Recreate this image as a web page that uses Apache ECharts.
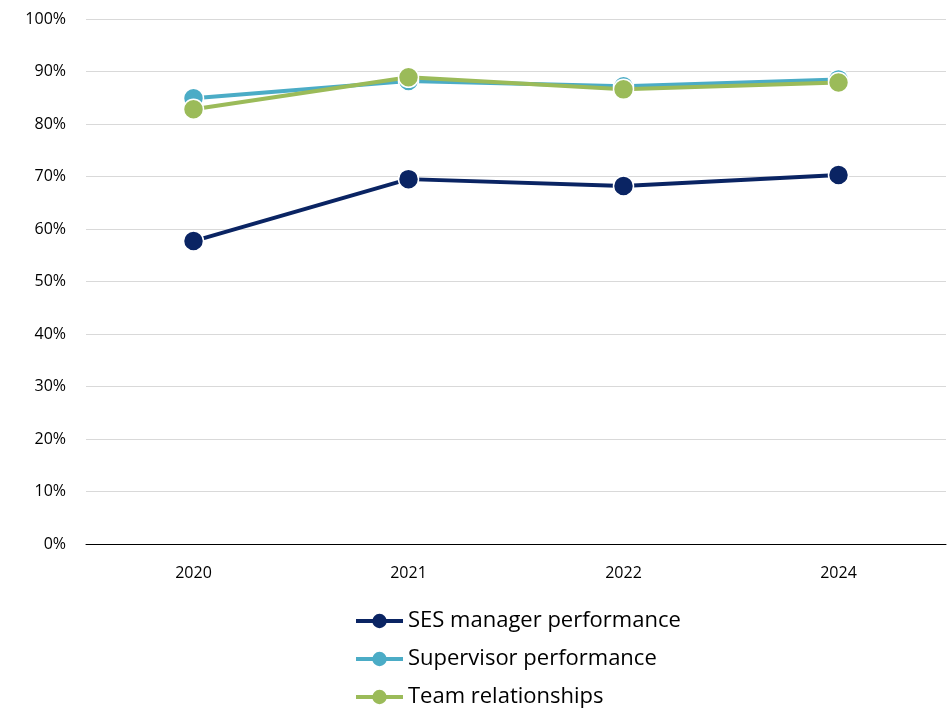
<!DOCTYPE html>
<html style="height: 100%">
<head>
    <meta charset="utf-8">
    <title>Survey results</title>
</head>
<body style="height: 100%; margin: 0; background: #fff">
<div id="container" style="width: 951px; height: 710px"></div>
<script type="text/javascript" src="https://cdn.jsdelivr.net/npm/echarts@6/dist/echarts.min.js"></script>
<script type="text/javascript">
    var years = ['2020', '2021', '2022', '2024'];
    var sesManager = [57.7, 69.5, 68.2, 70.3];
    var supervisor = [84.9, 88.2, 87.2, 88.5];
    var teamRel = [82.8, 88.9, 86.6, 87.9];

    var font = 'Open Sans';
    var dom = document.getElementById("container");
    var myChart = echarts.init(dom);

    function lineSeries(name, color, data) {
        return {
            name: name,
            type: 'line',
            data: data,
            symbol: 'circle',
            symbolSize: 20,
            lineStyle: { color: color, width: 4 },
            itemStyle: { color: color, borderColor: '#fff', borderWidth: 1.5 }
        };
    }

    var option = {
        animation: false,
        grid: { left: 86, right: 5, top: 19, bottom: 166 },
        legend: {
            orient: 'vertical',
            left: 354,
            top: 610,
            padding: 0,
            itemGap: 16,
            itemWidth: 47,
            itemHeight: 18,
            lineStyle: { width: 4 },
            itemStyle: { borderWidth: 0 },
            textStyle: { fontFamily: font, fontSize: 22, color: '#000' },
            data: ['SES manager performance', 'Supervisor performance', 'Team relationships']
        },
        xAxis: {
            type: 'category',
            data: years,
            axisLine: { lineStyle: { color: '#000', width: 1 } },
            axisTick: { show: false },
            axisLabel: { fontFamily: font, fontSize: 16, color: '#000', margin: 21 }
        },
        yAxis: {
            type: 'value',
            min: 0,
            max: 100,
            interval: 10,
            axisLine: { show: false },
            axisTick: { show: false },
            axisLabel: { fontFamily: font, fontSize: 16, color: '#000', margin: 20, formatter: '{value}%' },
            splitLine: { lineStyle: { color: '#d9d9d9', width: 1 } }
        },
        series: [
            lineSeries('SES manager performance', '#0a2463', sesManager),
            lineSeries('Supervisor performance', '#4bacc6', supervisor),
            lineSeries('Team relationships', '#9bbb59', teamRel)
        ]
    };
    myChart.setOption(option, true);
</script>
</body>
</html>
